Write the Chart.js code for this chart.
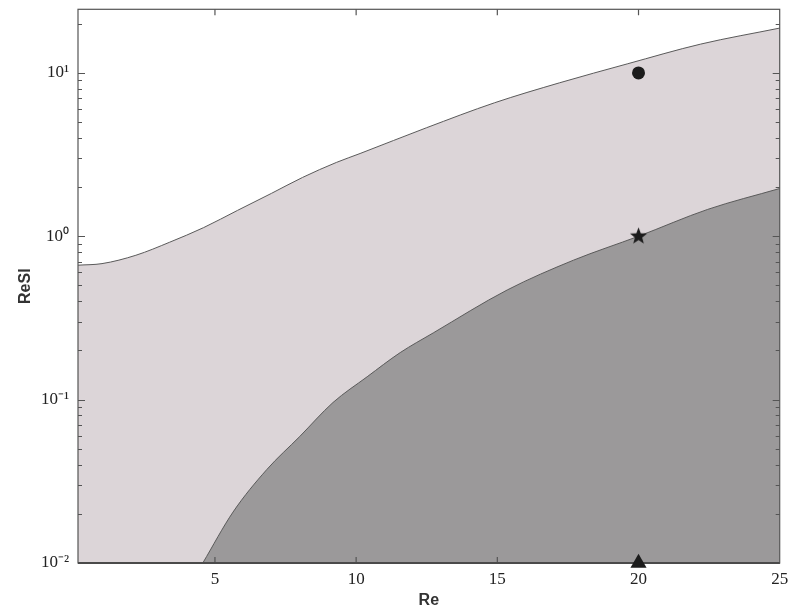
<!DOCTYPE html>
<html>
<head>
<meta charset="utf-8">
<script src="https://cdn.jsdelivr.net/npm/chart.js@4/dist/chart.umd.min.js"></script>
<style>
  html, body { margin: 0; padding: 0; background: #ffffff; }
  canvas { display: block; }
</style>
</head>
<body>
<canvas id="c" width="789" height="610"></canvas>
<script>
// Upper stability boundary (Re, ReSl)
const upperRe   = [0.15, 1.0, 2.2, 3.4, 4.6, 5.8, 7.0, 8.1, 9.3, 10.14, 12.5, 14.9, 17.2, 19.6, 22.2, 25];
const upperReSl = [0.665, 0.68, 0.765, 0.92, 1.13, 1.44, 1.83, 2.29, 2.83, 3.21, 4.62, 6.56, 8.69, 11.35, 15.0, 18.8];

// Lower boundary (Re, ReSl)
const lowerRe   = [4.57, 5.64, 6.84, 8.0, 9.18, 10.39, 11.56, 12.73, 15.35, 17.7, 20, 22.45, 25];
const lowerReSl = [0.01, 0.0205, 0.0374, 0.0594, 0.096, 0.138, 0.194, 0.256, 0.469, 0.714, 1.0, 1.46, 1.96];

// Sample cases marked at Re = 20
const markerRe   = [20, 20, 20];
const markerReSl = [10, 1, 0.01];

// Axis ticks
const xTickValues = [5, 10, 15, 20, 25];
const xTickLabels = ['5', '10', '15', '20', '25'];
const yTickValues = [0.01, 0.1, 1, 10];
const yTickLabels = ['10\u207B\u00B2', '10\u207B\u00B9', '10\u2070', '10\u00B9'];

const toPoints = (xs, ys) => xs.map((x, i) => ({ x: x, y: ys[i] }));

// Filled five-pointed star used as a point style
function makeStar(size, color) {
  const cv = document.createElement('canvas');
  cv.width = size; cv.height = size;
  const g = cv.getContext('2d');
  const cx = size / 2, cy = size / 2, ro = size / 2 - 0.5, ri = ro * 0.42;
  g.beginPath();
  for (let i = 0; i < 10; i++) {
    const r = i % 2 === 0 ? ro : ri;
    const a = -Math.PI / 2 + i * Math.PI / 5;
    const px = cx + r * Math.cos(a), py = cy + r * Math.sin(a);
    if (i === 0) g.moveTo(px, py); else g.lineTo(px, py);
  }
  g.closePath();
  g.fillStyle = color;
  g.fill();
  return cv;
}
const starMarker = makeStar(19, '#1c1c1c');

// Box around the plot with inward ticks (drawn after the filled regions, before the markers)
const framePlugin = {
  id: 'frame',
  afterDatasetDraw(chart, args) {
    if (args.index !== 1) return;
    const { ctx, chartArea: a, scales: { x, y } } = chart;
    ctx.save();
    ctx.strokeStyle = '#555555';
    ctx.lineWidth = 1.2;
    ctx.strokeRect(a.left, a.top, a.right - a.left, a.bottom - a.top);
    ctx.beginPath();
    xTickValues.forEach(v => {
      const px = x.getPixelForValue(v);
      if (px >= a.right - 1) return;
      ctx.moveTo(px, a.bottom); ctx.lineTo(px, a.bottom - 6);
      ctx.moveTo(px, a.top); ctx.lineTo(px, a.top + 6);
    });
    for (let e = -2; e <= 1; e++) {
      for (let k = 1; k <= 9; k++) {
        const v = k * Math.pow(10, e);
        if (v > y.max || v < y.min) continue;
        const py = Math.round(y.getPixelForValue(v)) + 0.5;
        const len = k === 1 ? 7 : 4;
        ctx.moveTo(a.left, py); ctx.lineTo(a.left + len, py);
        ctx.moveTo(a.right, py); ctx.lineTo(a.right - len, py);
      }
    }
    ctx.stroke();
    ctx.lineWidth = 2;
    ctx.strokeStyle = '#4a4a4a';
    ctx.beginPath();
    ctx.moveTo(a.left, a.bottom); ctx.lineTo(a.right, a.bottom);
    ctx.stroke();
    ctx.restore();
  }
};

new Chart(document.getElementById('c'), {
  type: 'line',
  data: {
    datasets: [
      {
        label: 'cases',
        data: toPoints(markerRe, markerReSl),
        showLine: false,
        pointStyle: ['circle', starMarker, 'triangle'],
        pointRadius: [6.5, 9, 9.3],
        pointBackgroundColor: '#1c1c1c',
        pointBorderColor: '#1c1c1c',
        pointBorderWidth: 0,
        clip: false
      },
      {
        label: 'lower',
        data: toPoints(lowerRe, lowerReSl),
        borderColor: '#5a5a5a',
        borderWidth: 1,
        pointRadius: 0,
        cubicInterpolationMode: 'monotone',
        fill: 'start',
        backgroundColor: '#9b999a'
      },
      {
        label: 'upper',
        data: toPoints(upperRe, upperReSl),
        borderColor: '#5a5a5a',
        borderWidth: 1,
        pointRadius: 0,
        cubicInterpolationMode: 'monotone',
        fill: 'start',
        backgroundColor: '#dcd5d8'
      }
    ]
  },
  options: {
    responsive: false,
    animation: false,
    layout: { padding: { left: 0, right: 8, top: 8, bottom: 0 } },
    plugins: {
      legend: { display: false },
      tooltip: { enabled: false }
    },
    scales: {
      x: {
        type: 'linear',
        min: 0.15,
        max: 25,
        grid: { display: false, drawTicks: false },
        border: { display: false },
        afterBuildTicks: s => { s.ticks = xTickValues.map(v => ({ value: v })); },
        afterFit: s => { s.height = 47; s.paddingLeft = 0; s.paddingRight = 0; },
        ticks: {
          autoSkip: false,
          maxRotation: 0,
          padding: 6,
          color: '#222222',
          font: { family: 'Liberation Serif', size: 17 },
          callback: v => xTickLabels[xTickValues.indexOf(v)] ?? ''
        },
        title: {
          display: true,
          text: 'Re',
          color: '#333333',
          font: { family: 'Liberation Sans', size: 16, weight: 'bold' },
          padding: { top: 0, bottom: 0 }
        }
      },
      y: {
        type: 'logarithmic',
        min: 0.01,
        max: 24.5,
        grid: { display: false, drawTicks: false },
        border: { display: false },
        afterBuildTicks: s => { s.ticks = yTickValues.map(v => ({ value: v })); },
        afterFit: s => { s.width = 78; s.paddingTop = 0; s.paddingBottom = 0; },
        ticks: {
          autoSkip: false,
          padding: 9,
          color: '#222222',
          font: { family: 'Liberation Serif', size: 17 },
          callback: v => yTickLabels[yTickValues.indexOf(v)] ?? ''
        },
        title: {
          display: true,
          text: 'ReSl',
          color: '#333333',
          font: { family: 'Liberation Sans', size: 16, weight: 'bold' },
          padding: { top: 16, bottom: 0 }
        }
      }
    }
  },
  plugins: [framePlugin]
});
</script>
</body>
</html>
